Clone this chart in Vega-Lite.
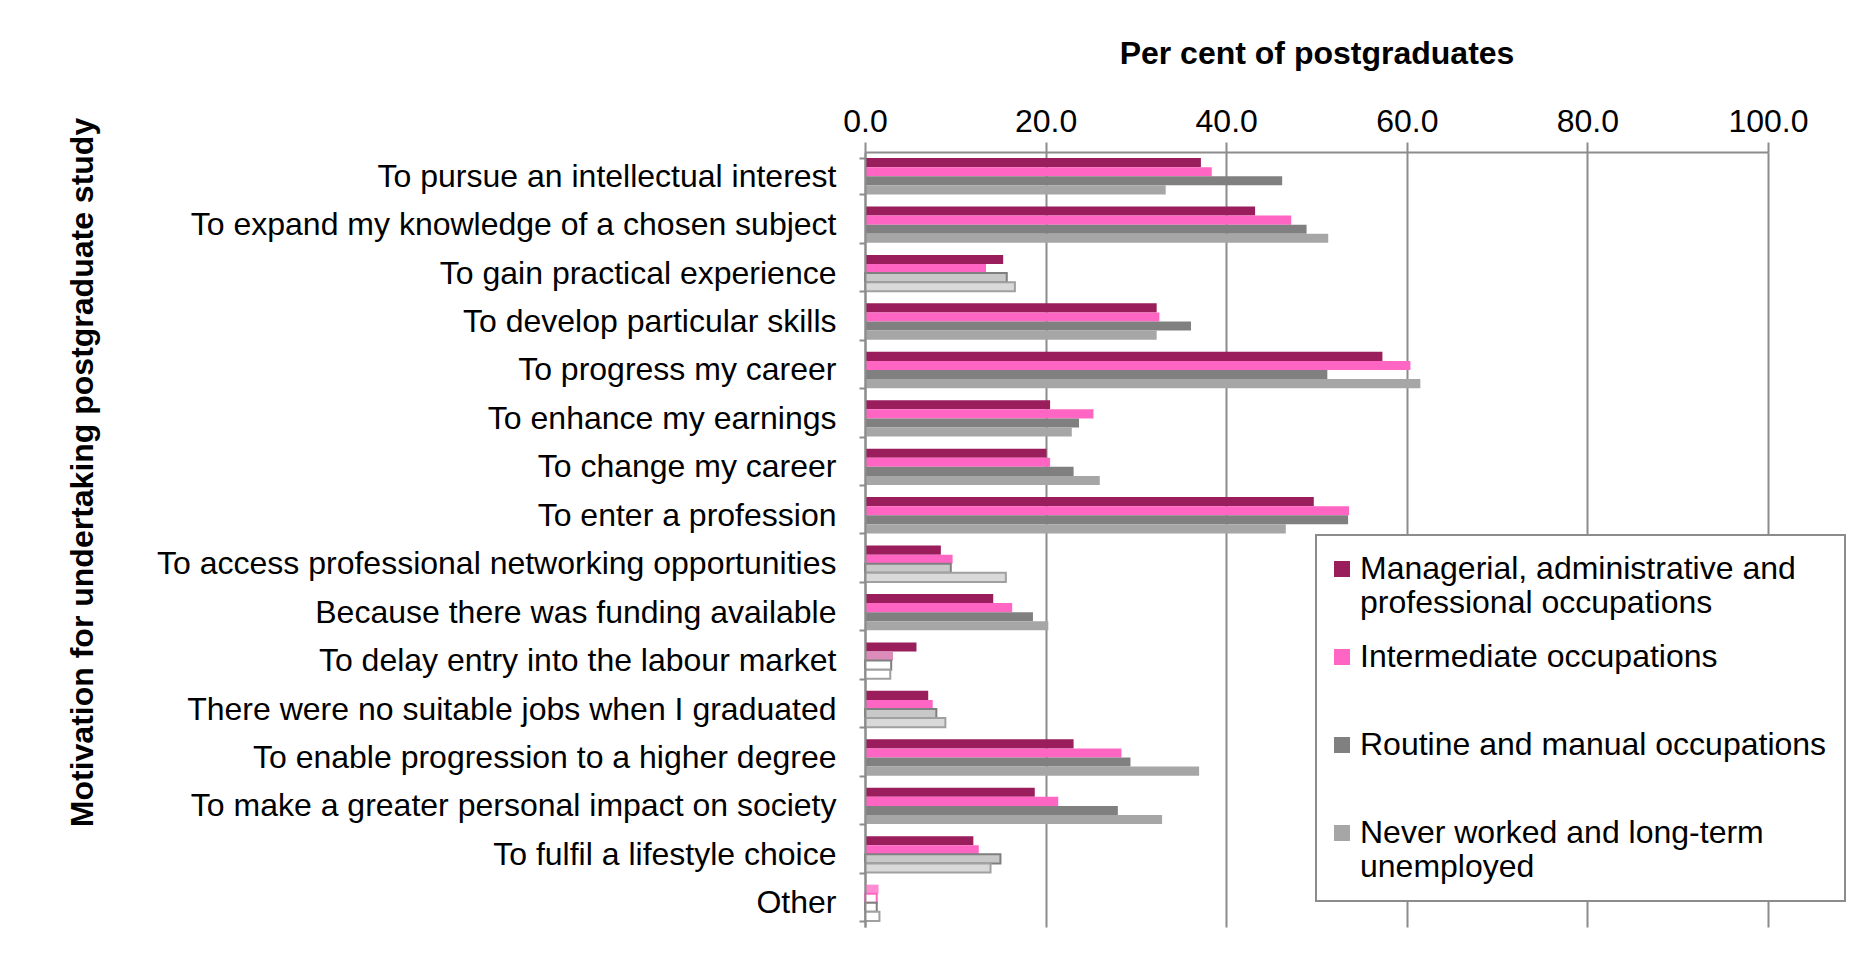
{
  "$schema": "https://vega.github.io/schema/vega-lite/v6.json",
  "width": 903,
  "height": 775,
  "autosize": {"type": "none"},
  "padding": {"left": 865, "top": 152, "right": 84, "bottom": 29},
  "background": "white",
  "config": {
    "font": "Liberation Sans",
    "view": {"stroke": null},
    "legend": {
      "strokeColor": "#8c8c8c",
      "strokeWidth": 2,
      "fillColor": "white",
      "padding": 18,
      "rowPadding": 22
    }
  },
  "data": {
    "values": [
      {"reason": "To pursue an intellectual interest", "group": "Managerial, administrative and professional occupations", "value": 37.2, "base": "full"},
      {"reason": "To pursue an intellectual interest", "group": "Intermediate occupations", "value": 38.4, "base": "full"},
      {"reason": "To pursue an intellectual interest", "group": "Routine and manual occupations", "value": 46.2, "base": "full"},
      {"reason": "To pursue an intellectual interest", "group": "Never worked and long-term unemployed", "value": 33.3, "base": "full"},
      {"reason": "To expand my knowledge of a chosen subject", "group": "Managerial, administrative and professional occupations", "value": 43.2, "base": "full"},
      {"reason": "To expand my knowledge of a chosen subject", "group": "Intermediate occupations", "value": 47.2, "base": "full"},
      {"reason": "To expand my knowledge of a chosen subject", "group": "Routine and manual occupations", "value": 48.9, "base": "full"},
      {"reason": "To expand my knowledge of a chosen subject", "group": "Never worked and long-term unemployed", "value": 51.3, "base": "full"},
      {"reason": "To gain practical experience", "group": "Managerial, administrative and professional occupations", "value": 15.3, "base": "full"},
      {"reason": "To gain practical experience", "group": "Intermediate occupations", "value": 13.4, "base": "full"},
      {"reason": "To gain practical experience", "group": "Routine and manual occupations", "value": 15.7, "base": "low"},
      {"reason": "To gain practical experience", "group": "Never worked and long-term unemployed", "value": 16.6, "base": "low"},
      {"reason": "To develop particular skills", "group": "Managerial, administrative and professional occupations", "value": 32.3, "base": "full"},
      {"reason": "To develop particular skills", "group": "Intermediate occupations", "value": 32.6, "base": "full"},
      {"reason": "To develop particular skills", "group": "Routine and manual occupations", "value": 36.1, "base": "full"},
      {"reason": "To develop particular skills", "group": "Never worked and long-term unemployed", "value": 32.3, "base": "full"},
      {"reason": "To progress my career", "group": "Managerial, administrative and professional occupations", "value": 57.3, "base": "full"},
      {"reason": "To progress my career", "group": "Intermediate occupations", "value": 60.4, "base": "full"},
      {"reason": "To progress my career", "group": "Routine and manual occupations", "value": 51.2, "base": "full"},
      {"reason": "To progress my career", "group": "Never worked and long-term unemployed", "value": 61.5, "base": "full"},
      {"reason": "To enhance my earnings", "group": "Managerial, administrative and professional occupations", "value": 20.5, "base": "full"},
      {"reason": "To enhance my earnings", "group": "Intermediate occupations", "value": 25.3, "base": "full"},
      {"reason": "To enhance my earnings", "group": "Routine and manual occupations", "value": 23.7, "base": "full"},
      {"reason": "To enhance my earnings", "group": "Never worked and long-term unemployed", "value": 22.9, "base": "full"},
      {"reason": "To change my career", "group": "Managerial, administrative and professional occupations", "value": 20.1, "base": "full"},
      {"reason": "To change my career", "group": "Intermediate occupations", "value": 20.5, "base": "full"},
      {"reason": "To change my career", "group": "Routine and manual occupations", "value": 23.1, "base": "full"},
      {"reason": "To change my career", "group": "Never worked and long-term unemployed", "value": 26.0, "base": "full"},
      {"reason": "To enter a profession", "group": "Managerial, administrative and professional occupations", "value": 49.7, "base": "full"},
      {"reason": "To enter a profession", "group": "Intermediate occupations", "value": 53.6, "base": "full"},
      {"reason": "To enter a profession", "group": "Routine and manual occupations", "value": 53.5, "base": "full"},
      {"reason": "To enter a profession", "group": "Never worked and long-term unemployed", "value": 46.6, "base": "full"},
      {"reason": "To access professional networking opportunities", "group": "Managerial, administrative and professional occupations", "value": 8.4, "base": "full"},
      {"reason": "To access professional networking opportunities", "group": "Intermediate occupations", "value": 9.7, "base": "full"},
      {"reason": "To access professional networking opportunities", "group": "Routine and manual occupations", "value": 9.5, "base": "low"},
      {"reason": "To access professional networking opportunities", "group": "Never worked and long-term unemployed", "value": 15.6, "base": "low"},
      {"reason": "Because there was funding available", "group": "Managerial, administrative and professional occupations", "value": 14.2, "base": "full"},
      {"reason": "Because there was funding available", "group": "Intermediate occupations", "value": 16.3, "base": "full"},
      {"reason": "Because there was funding available", "group": "Routine and manual occupations", "value": 18.6, "base": "full"},
      {"reason": "Because there was funding available", "group": "Never worked and long-term unemployed", "value": 20.3, "base": "full"},
      {"reason": "To delay entry into the labour market", "group": "Managerial, administrative and professional occupations", "value": 5.7, "base": "full"},
      {"reason": "To delay entry into the labour market", "group": "Intermediate occupations", "value": 3.1, "base": "low"},
      {"reason": "To delay entry into the labour market", "group": "Routine and manual occupations", "value": 2.9, "base": "very low"},
      {"reason": "To delay entry into the labour market", "group": "Never worked and long-term unemployed", "value": 2.8, "base": "very low"},
      {"reason": "There were no suitable jobs when I graduated", "group": "Managerial, administrative and professional occupations", "value": 7.0, "base": "full"},
      {"reason": "There were no suitable jobs when I graduated", "group": "Intermediate occupations", "value": 7.5, "base": "full"},
      {"reason": "There were no suitable jobs when I graduated", "group": "Routine and manual occupations", "value": 7.9, "base": "low"},
      {"reason": "There were no suitable jobs when I graduated", "group": "Never worked and long-term unemployed", "value": 8.9, "base": "low"},
      {"reason": "To enable progression to a higher degree", "group": "Managerial, administrative and professional occupations", "value": 23.1, "base": "full"},
      {"reason": "To enable progression to a higher degree", "group": "Intermediate occupations", "value": 28.4, "base": "full"},
      {"reason": "To enable progression to a higher degree", "group": "Routine and manual occupations", "value": 29.4, "base": "full"},
      {"reason": "To enable progression to a higher degree", "group": "Never worked and long-term unemployed", "value": 37.0, "base": "full"},
      {"reason": "To make a greater personal impact on society", "group": "Managerial, administrative and professional occupations", "value": 18.8, "base": "full"},
      {"reason": "To make a greater personal impact on society", "group": "Intermediate occupations", "value": 21.4, "base": "full"},
      {"reason": "To make a greater personal impact on society", "group": "Routine and manual occupations", "value": 28.0, "base": "full"},
      {"reason": "To make a greater personal impact on society", "group": "Never worked and long-term unemployed", "value": 32.9, "base": "full"},
      {"reason": "To fulfil a lifestyle choice", "group": "Managerial, administrative and professional occupations", "value": 12.0, "base": "full"},
      {"reason": "To fulfil a lifestyle choice", "group": "Intermediate occupations", "value": 12.6, "base": "full"},
      {"reason": "To fulfil a lifestyle choice", "group": "Routine and manual occupations", "value": 15.0, "base": "low"},
      {"reason": "To fulfil a lifestyle choice", "group": "Never worked and long-term unemployed", "value": 13.9, "base": "low"},
      {"reason": "Other", "group": "Managerial, administrative and professional occupations", "value": 1.5, "base": "low"},
      {"reason": "Other", "group": "Intermediate occupations", "value": 1.3, "base": "very low"},
      {"reason": "Other", "group": "Routine and manual occupations", "value": 1.3, "base": "very low"},
      {"reason": "Other", "group": "Never worked and long-term unemployed", "value": 1.6, "base": "very low"}
    ]
  },
  "mark": {"type": "bar"},
  "encoding": {
    "y": {
      "field": "reason",
      "type": "nominal",
      "sort": [
        "To pursue an intellectual interest",
        "To expand my knowledge of a chosen subject",
        "To gain practical experience",
        "To develop particular skills",
        "To progress my career",
        "To enhance my earnings",
        "To change my career",
        "To enter a profession",
        "To access professional networking opportunities",
        "Because there was funding available",
        "To delay entry into the labour market",
        "There were no suitable jobs when I graduated",
        "To enable progression to a higher degree",
        "To make a greater personal impact on society",
        "To fulfil a lifestyle choice",
        "Other"
      ],
      "scale": {"paddingInner": 0.25, "paddingOuter": 0.125},
      "axis": {
        "title": "Motivation for undertaking postgraduate study",
        "titleFontSize": 32,
        "titleFontWeight": "bold",
        "titleColor": "black",
        "titleX": -783,
        "titleY": 320,
        "titleAngle": -90,
        "titleAlign": "center",
        "titleBaseline": "middle",
        "labelFontSize": 32,
        "labelColor": "black",
        "labelLimit": 900,
        "labelPadding": 23,
        "tickBand": "extent",
        "tickSize": 6,
        "tickColor": "#8c8c8c",
        "tickWidth": 2,
        "domainColor": "#8c8c8c",
        "domainWidth": 2,
        "zindex": 1
      }
    },
    "yOffset": {
      "field": "group",
      "type": "nominal",
      "sort": [
        "Managerial, administrative and professional occupations",
        "Intermediate occupations",
        "Routine and manual occupations",
        "Never worked and long-term unemployed"
      ],
      "scale": {"paddingInner": 0, "paddingOuter": 0}
    },
    "x": {
      "field": "value",
      "type": "quantitative",
      "scale": {"domain": [0, 100]},
      "axis": {
        "orient": "top",
        "values": [0, 20, 40, 60, 80, 100],
        "format": ".1f",
        "title": "Per cent of postgraduates",
        "titleFontSize": 32,
        "titleFontWeight": "bold",
        "titleColor": "black",
        "titlePadding": 35,
        "labelFontSize": 32,
        "labelColor": "black",
        "labelPadding": 4,
        "labelFlush": false,
        "tickSize": 10,
        "tickColor": "#8c8c8c",
        "tickWidth": 2,
        "domainColor": "#8c8c8c",
        "domainWidth": 2,
        "grid": true,
        "gridColor": "#8c8c8c",
        "gridWidth": 2
      }
    },
    "fill": {
      "field": "group",
      "type": "nominal",
      "scale": {
        "domain": [
          "Managerial, administrative and professional occupations",
          "Intermediate occupations",
          "Routine and manual occupations",
          "Never worked and long-term unemployed"
        ],
        "range": ["#9B1E5C", "#FF66C4", "#808080", "#A6A6A6"]
      },
      "legend": {
        "orient": "none",
        "legendX": 451,
        "legendY": 383,
        "title": null,
        "labelFontSize": 32,
        "labelColor": "black",
        "labelLimit": 700,
        "labelOffset": 2,
        "symbolOffset": -8,
        "symbolType": "square",
        "symbolSize": 256,
        "symbolStrokeWidth": 0,
        "labelExpr": "datum.label == 'Managerial, administrative and professional occupations' ? ['Managerial, administrative and', 'professional occupations'] : datum.label == 'Never worked and long-term unemployed' ? ['Never worked and long-term', 'unemployed'] : [datum.label, '']"
      },
      "condition": [
        {"test": "datum.base == 'very low'", "value": "#ffffff"},
        {"test": "datum.base == 'low' && datum.group == 'Routine and manual occupations'", "value": "#C8C8C8"},
        {"test": "datum.base == 'low' && datum.group == 'Never worked and long-term unemployed'", "value": "#D9D9D9"},
        {"test": "datum.base == 'low' && datum.group == 'Intermediate occupations'", "value": "#DC8CB8"},
        {"test": "datum.base == 'low'", "value": "#FF8CD2"}
      ]
    },
    "stroke": {
      "condition": [
        {"test": "datum.base != 'full' && datum.group == 'Routine and manual occupations'", "value": "#7F7F7F"},
        {"test": "datum.base != 'full' && datum.group == 'Never worked and long-term unemployed'", "value": "#A0A0A0"},
        {"test": "datum.base == 'very low' && datum.group == 'Intermediate occupations'", "value": "#FF66C4"}
      ],
      "value": "transparent"
    },
    "strokeWidth": {"value": 2}
  }
}
